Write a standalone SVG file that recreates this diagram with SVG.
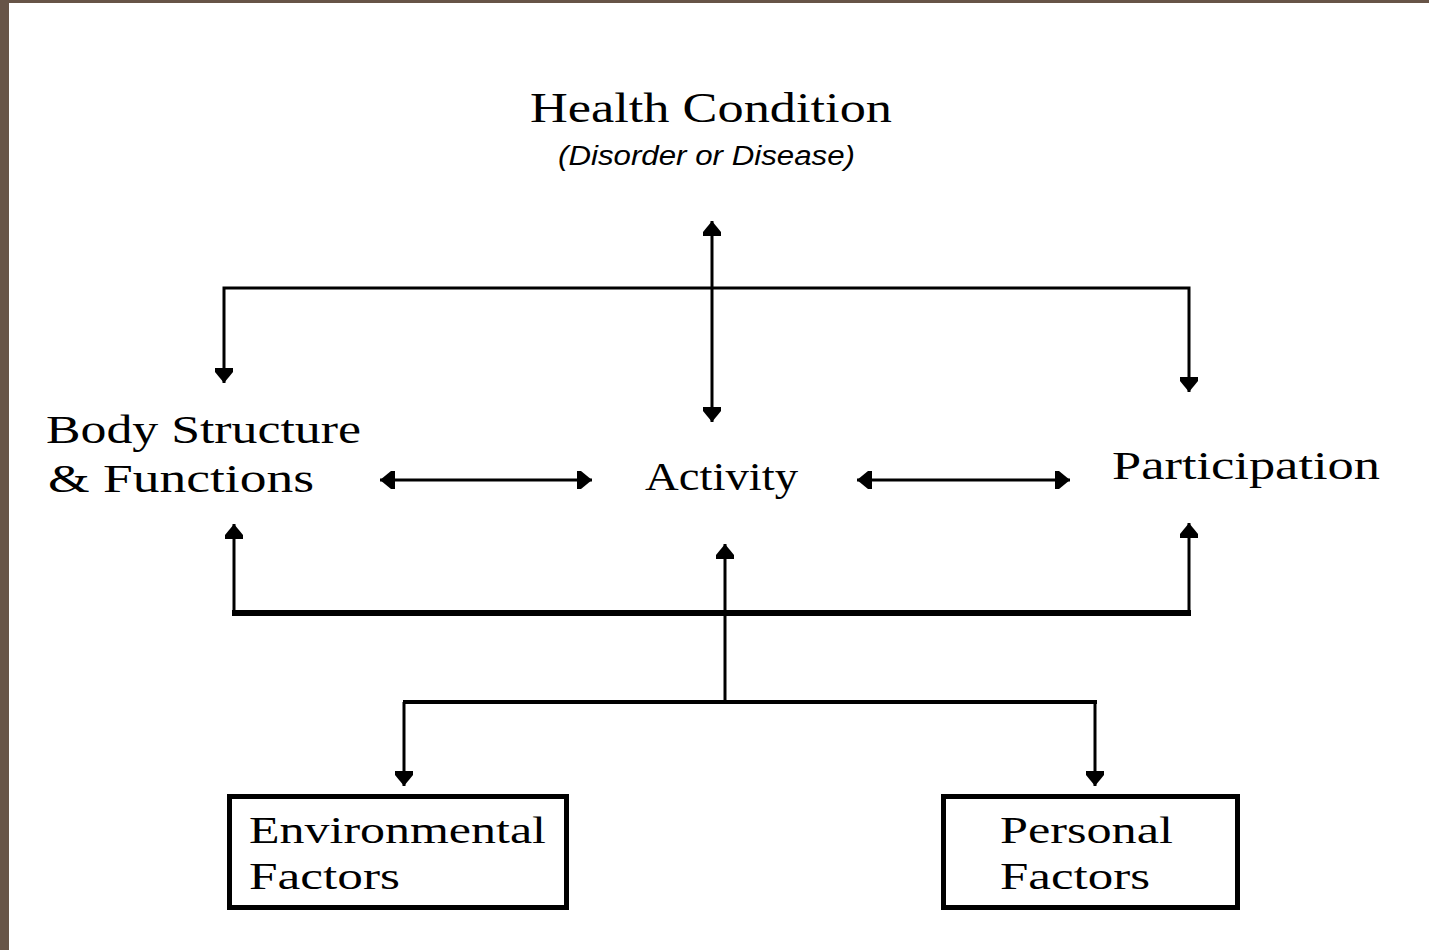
<svg xmlns="http://www.w3.org/2000/svg" width="1429" height="950" viewBox="0 0 1429 950">
<style>
.serif{font-family:"Liberation Serif","DejaVu Serif",serif;fill:#000}
.big{font-size:42px}
.lbl{font-size:40px}
.box{font-size:38px}
.sub{font-family:"Liberation Sans","DejaVu Sans",sans-serif;font-style:italic;font-size:27px;fill:#000}
.ln{stroke:#000;stroke-width:3;fill:none}
.frame{fill:none;stroke:#000;stroke-width:5}
</style>
<defs>
<marker id="ah" viewBox="0 -10 16 20" refX="15" refY="0" markerWidth="16" markerHeight="20" markerUnits="userSpaceOnUse" orient="auto-start-reverse">
<path d="M0,-9 L4,-9 L15,0 L4,9 L0,9 Z" fill="#000"/>
</marker>
</defs>
<rect x="0" y="0" width="1429" height="950" fill="#fff"/>
<rect x="0" y="0" width="1429" height="3" fill="#675447"/>
<rect x="0" y="0" width="9" height="950" fill="#675447"/>

<g id="connectors">
<line class="ln" x1="712" y1="221" x2="712" y2="422" marker-start="url(#ah)" marker-end="url(#ah)"/>
<path class="ln" d="M224,383 V288 H1189 V392" marker-start="url(#ah)" marker-end="url(#ah)"/>
<line class="ln" x1="380" y1="480" x2="592" y2="480" stroke-width="5" marker-start="url(#ah)" marker-end="url(#ah)"/>
<line class="ln" x1="857" y1="480" x2="1070" y2="480" stroke-width="5" marker-start="url(#ah)" marker-end="url(#ah)"/>
<line class="ln" x1="234" y1="613" x2="234" y2="524" marker-end="url(#ah)"/>
<line class="ln" x1="1189" y1="613" x2="1189" y2="523" marker-end="url(#ah)"/>
<line x1="232" y1="613" x2="1191" y2="613" stroke="#000" stroke-width="6"/>
<line class="ln" x1="725" y1="702" x2="725" y2="544" marker-end="url(#ah)"/>
<line x1="403" y1="702" x2="1097" y2="702" stroke="#000" stroke-width="4"/>
<line class="ln" x1="404" y1="702" x2="404" y2="786" marker-end="url(#ah)"/>
<line class="ln" x1="1095" y1="702" x2="1095" y2="786" marker-end="url(#ah)"/>
</g>

<g id="health">
<text class="serif big" x="530" y="122" textLength="362" lengthAdjust="spacingAndGlyphs">Health Condition</text>
<text class="sub" x="558" y="165" textLength="297" lengthAdjust="spacingAndGlyphs">(Disorder or Disease)</text>
</g>
<g id="body">
<text class="serif lbl" x="46" y="443" textLength="315" lengthAdjust="spacingAndGlyphs">Body Structure</text>
<text class="serif lbl" x="48" y="492" textLength="266" lengthAdjust="spacingAndGlyphs">&amp; Functions</text>
</g>
<g id="activity">
<text class="serif lbl" x="645" y="490" textLength="153" lengthAdjust="spacingAndGlyphs">Activity</text>
</g>
<g id="participation">
<text class="serif lbl" x="1112" y="479" textLength="268" lengthAdjust="spacingAndGlyphs">Participation</text>
</g>
<g id="environmental">
<rect class="frame" x="229.5" y="796.5" width="337" height="111"/>
<text class="serif box" x="249" y="843" textLength="297" lengthAdjust="spacingAndGlyphs">Environmental</text>
<text class="serif box" x="249" y="889" textLength="151" lengthAdjust="spacingAndGlyphs">Factors</text>
</g>
<g id="personal">
<rect class="frame" x="943.5" y="796.5" width="294" height="111"/>
<text class="serif box" x="1000" y="843" textLength="173" lengthAdjust="spacingAndGlyphs">Personal</text>
<text class="serif box" x="1000" y="889" textLength="150" lengthAdjust="spacingAndGlyphs">Factors</text>
</g>
</svg>
